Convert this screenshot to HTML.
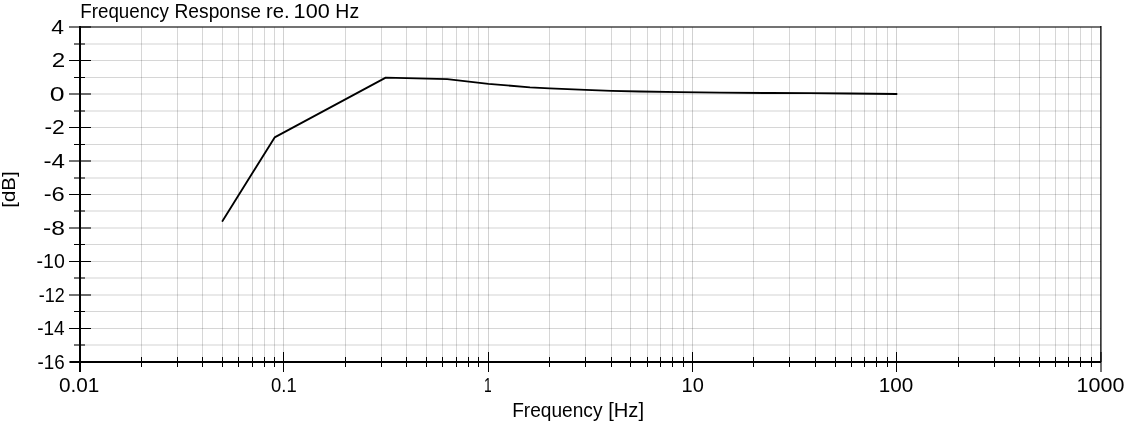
<!DOCTYPE html>
<html><head><meta charset="utf-8"><style>
html,body{margin:0;padding:0;background:#fff;width:1125px;height:422px;overflow:hidden}
svg{display:block;will-change:transform}
text{font-family:"Liberation Sans",sans-serif}
</style></head><body>
<svg width="1125" height="422" viewBox="0 0 1125 422"><g shape-rendering="crispEdges"><path d="M141 27h1v335h-1zM177 27h1v335h-1zM202 27h1v335h-1zM222 27h1v335h-1zM238 27h1v335h-1zM252 27h1v335h-1zM264 27h1v335h-1zM274 27h1v335h-1zM345 27h1v335h-1zM381 27h1v335h-1zM406 27h1v335h-1zM426 27h1v335h-1zM442 27h1v335h-1zM456 27h1v335h-1zM468 27h1v335h-1zM478 27h1v335h-1zM549 27h1v335h-1zM585 27h1v335h-1zM611 27h1v335h-1zM630 27h1v335h-1zM647 27h1v335h-1zM660 27h1v335h-1zM672 27h1v335h-1zM683 27h1v335h-1zM753 27h1v335h-1zM789 27h1v335h-1zM815 27h1v335h-1zM835 27h1v335h-1zM851 27h1v335h-1zM864 27h1v335h-1zM876 27h1v335h-1zM887 27h1v335h-1zM958 27h1v335h-1zM994 27h1v335h-1zM1019 27h1v335h-1zM1039 27h1v335h-1zM1055 27h1v335h-1zM1068 27h1v335h-1zM1080 27h1v335h-1zM1091 27h1v335h-1z" fill="#000" fill-opacity="0.16"/><path d="M283 27h1v335h-1zM488 27h1v335h-1zM692 27h1v335h-1zM896 27h1v335h-1z" fill="#000" fill-opacity="0.18"/><path d="M80 328h1021v1h-1021zM80 311h1021v1h-1021zM80 261h1021v1h-1021zM80 244h1021v1h-1021zM80 194h1021v1h-1021zM80 144h1021v1h-1021zM80 127h1021v1h-1021zM80 77h1021v1h-1021zM80 60h1021v1h-1021z" fill="#000" fill-opacity="0.16"/><path d="M80 344h1021v2h-1021zM80 294h1021v2h-1021zM80 277h1021v2h-1021zM80 227h1021v2h-1021zM80 210h1021v2h-1021zM80 177h1021v2h-1021zM80 160h1021v2h-1021zM80 110h1021v2h-1021zM80 93h1021v2h-1021zM80 43h1021v2h-1021z" fill="#000" fill-opacity="0.085"/><path d="M69 361h11v2h-11zM74 344h11v2h-11zM69 294h22v2h-22zM74 277h11v2h-11zM69 227h22v2h-22zM74 210h11v2h-11zM74 177h11v2h-11zM69 160h22v2h-22zM74 110h11v2h-11zM69 93h22v2h-22zM74 43h11v2h-11zM69 26h22v2h-22zM1100 352h2v20h-2z" fill="#000" fill-opacity="0.55"/><path d="M1101 26h1v336h-1z" fill="#000" fill-opacity="0.55"/><path d="M80 26h1021v2h-1021z" fill="#000" fill-opacity="0.55"/><path d="M1100 26h1v336h-1z" fill="#000" fill-opacity="0.78"/><path d="M69 328h22v1h-22zM74 311h11v1h-11zM69 261h22v1h-22zM74 244h11v1h-11zM69 194h22v1h-22zM74 144h11v1h-11zM69 127h22v1h-22zM74 77h11v1h-11zM69 60h22v1h-22zM141 357h1v10h-1zM177 357h1v10h-1zM202 357h1v10h-1zM222 357h1v10h-1zM238 357h1v10h-1zM252 357h1v10h-1zM264 357h1v10h-1zM274 357h1v10h-1zM283 352h1v20h-1zM345 357h1v10h-1zM381 357h1v10h-1zM406 357h1v10h-1zM426 357h1v10h-1zM442 357h1v10h-1zM456 357h1v10h-1zM468 357h1v10h-1zM478 357h1v10h-1zM488 352h1v20h-1zM549 357h1v10h-1zM585 357h1v10h-1zM611 357h1v10h-1zM630 357h1v10h-1zM647 357h1v10h-1zM660 357h1v10h-1zM672 357h1v10h-1zM683 357h1v10h-1zM692 352h1v20h-1zM753 357h1v10h-1zM789 357h1v10h-1zM815 357h1v10h-1zM835 357h1v10h-1zM851 357h1v10h-1zM864 357h1v10h-1zM876 357h1v10h-1zM887 357h1v10h-1zM896 352h1v20h-1zM958 357h1v10h-1zM994 357h1v10h-1zM1019 357h1v10h-1zM1039 357h1v10h-1zM1055 357h1v10h-1zM1068 357h1v10h-1zM1080 357h1v10h-1zM1091 357h1v10h-1zM79 26h2v346h-2zM70 361h1031v2h-1031z" fill="#000"/></g>
<path d="M222.51 221.00 L274.64 137.40 L385.74 77.60 L447.21 79.20 L488.40 83.80 L530.00 87.30 L549.50 88.40 L585.50 89.80 L611.50 90.80 L640.00 91.50 L680.00 92.20 L720.00 92.70 L770.00 93.00 L810.00 93.20 L850.00 93.50 L896.58 94.00" stroke="#000" stroke-width="1.85" fill="none" stroke-linejoin="round" stroke-linecap="round"/>
<g font-family="Liberation Sans, sans-serif" font-size="20" fill="#000"><text transform="matrix(0.9370 0 0 1.0000 80.33 17.90)">Frequency</text><text transform="matrix(0.9609 0 0 1.0000 174.48 17.90)">Response</text><text transform="matrix(1.0143 0 0 1.0000 266.09 17.90)">re.</text><text transform="matrix(1.0813 0 0 1.0000 293.62 17.90)">100</text><text transform="matrix(0.9727 0 0 1.0000 335.35 17.90)">Hz</text><text transform="matrix(1.1455 0 0 1.0000 51.30 33.75)">4</text><text transform="matrix(1.2111 0 0 1.0000 51.79 67.24)">2</text><text transform="matrix(1.3333 0 0 1.0000 49.87 100.73)">0</text><text transform="matrix(1.1437 0 0 1.0000 44.46 134.22)">-2</text><text transform="matrix(1.2062 0 0 1.0000 43.39 167.71)">-4</text><text transform="matrix(1.1875 0 0 1.0000 43.71 201.20)">-6</text><text transform="matrix(1.2312 0 0 1.0000 42.97 234.69)">-8</text><text transform="matrix(0.9778 0 0 1.0000 36.52 268.18)">-10</text><text transform="matrix(0.9000 0 0 1.0000 38.70 301.67)">-12</text><text transform="matrix(0.9556 0 0 1.0000 37.14 335.16)">-14</text><text transform="matrix(0.9407 0 0 1.0000 37.56 368.65)">-16</text><text transform="matrix(1.0378 0 0 1.0000 58.96 392.00)">0.01</text><text transform="matrix(0.9231 0 0 1.0000 271.08 392.00)">0.1</text><text transform="matrix(0.6889 0 0 1.0000 484.11 392.00)">1</text><text transform="matrix(1.0000 0 0 1.0000 681.60 392.00)">10</text><text transform="matrix(1.0344 0 0 1.0000 878.77 392.00)">100</text><text transform="matrix(1.0767 0 0 1.0000 1076.62 392.00)">1000</text><text transform="matrix(0.9565 0 0 1.0000 512.19 416.50)">Frequency</text><text transform="matrix(1.0091 0 0 1.0000 608.19 416.50)">[Hz]</text><text transform="matrix(0 -1.0212 0.8842 0 14.96 207.72)">[dB]</text></g></svg>
</body></html>
